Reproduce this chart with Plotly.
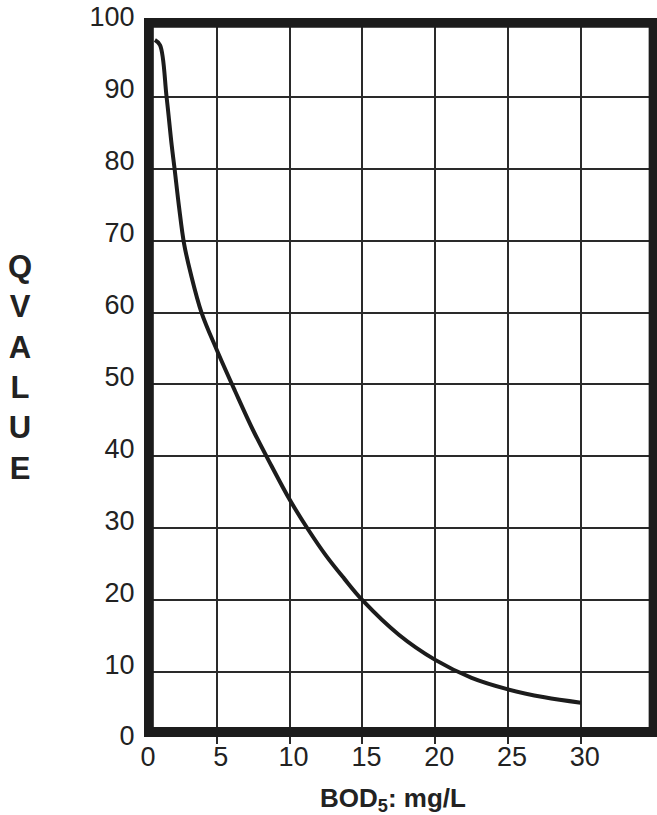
import plotly.graph_objects as go

# Curve (BOD5 in mg/L vs Q value)
bod5 = [0.75, 1.1, 1.55, 1.9, 2.1, 2.4, 2.75, 3.2, 3.95, 5.0, 6.25, 7.5, 8.75,
        10.0, 11.25, 12.5, 13.75, 15.0, 17.5, 20.0, 22.5, 25.0, 27.5, 30.0]
q_value = [97.9, 97.2, 90.0, 83.3, 80.0, 74.8, 69.6, 65.5, 60.0, 54.8, 49.1, 43.6, 38.7,
           34.0, 29.9, 26.2, 23.0, 20.0, 15.2, 11.7, 9.2, 7.6, 6.5, 5.75]

x_ticks = [0, 5, 10, 15, 20, 25, 30]
y_ticks = [0, 10, 20, 30, 40, 50, 60, 70, 80, 90, 100]
x_grid = [5, 10, 15, 20, 25, 30]
y_grid = [10, 20, 30, 40, 50, 60, 70, 80, 90]

INK = "#1c1c1c"
FONT = "Liberation Sans, Arial, sans-serif"

fig = go.Figure()
fig.add_trace(go.Scatter(
    x=bod5, y=q_value, mode="lines",
    line=dict(color=INK, width=4, shape="spline", smoothing=1.0),
    hoverinfo="skip", showlegend=False,
))

# heavy frame around the grid
fig.add_shape(type="rect", xref="x", yref="y", x0=0.33, x1=35.0, y0=1.67, y1=100.3,
              line=dict(color=INK, width=10), layer="above")

fig.update_xaxes(
    range=[0, 35.23], tickmode="array", tickvals=x_ticks,
    ticks="outside", ticklen=0, tickcolor="rgba(0,0,0,0)",
    showgrid=False, zeroline=False, showline=False, automargin=False,
    tickfont=dict(family=FONT, size=27, color="#222"),
    ticklabelshift=4, ticklabelstandoff=-11, ticklabeloverflow="allow",
    minor=dict(tickmode="array", tickvals=x_grid, ticks="inside", ticklen=1,
               tickcolor="rgba(0,0,0,0)", showgrid=True, gridcolor="#2a2a2a", gridwidth=2),
    fixedrange=True,
)
fig.update_yaxes(
    range=[0, 100.97], tickmode="array", tickvals=y_ticks,
    ticks="outside", ticklen=0, tickcolor="rgba(0,0,0,0)",
    showgrid=False, zeroline=False, showline=False, automargin=False,
    tickfont=dict(family=FONT, size=27, color="#222"),
    ticklabelshift=-8, ticklabelstandoff=3, ticklabeloverflow="allow",
    minor=dict(tickmode="array", tickvals=y_grid, ticks="inside", ticklen=1,
               tickcolor="rgba(0,0,0,0)", showgrid=True, gridcolor="#2a2a2a", gridwidth=2),
    fixedrange=True,
)

# x-axis title
fig.add_annotation(
    text="<b>BOD<sub>5</sub>: mg/L</b>", xref="paper", yref="paper",
    x=0.485, y=-0.077, xanchor="center", yanchor="middle", showarrow=False,
    font=dict(family=FONT, size=26, color="#222"),
)
# stacked y-axis title
fig.add_annotation(
    text="<b>Q<br>V<br>A<br>L<br>U<br>E</b>", xref="paper", yref="paper",
    x=-0.2417, y=0.519, xanchor="center", yanchor="middle", showarrow=False,
    font=dict(family=FONT, size=31, color="#222"), align="center",
)

fig.update_layout(
    width=657, height=815,
    margin=dict(l=144, r=0, t=18, b=71),
    paper_bgcolor="white", plot_bgcolor="white",
    showlegend=False,
)

# remove the browser's default 8px body margin so the figure fills the window
fig.write_html("out.html", config={"displayModeBar": False},
               post_script="document.body.style.margin='0';")
